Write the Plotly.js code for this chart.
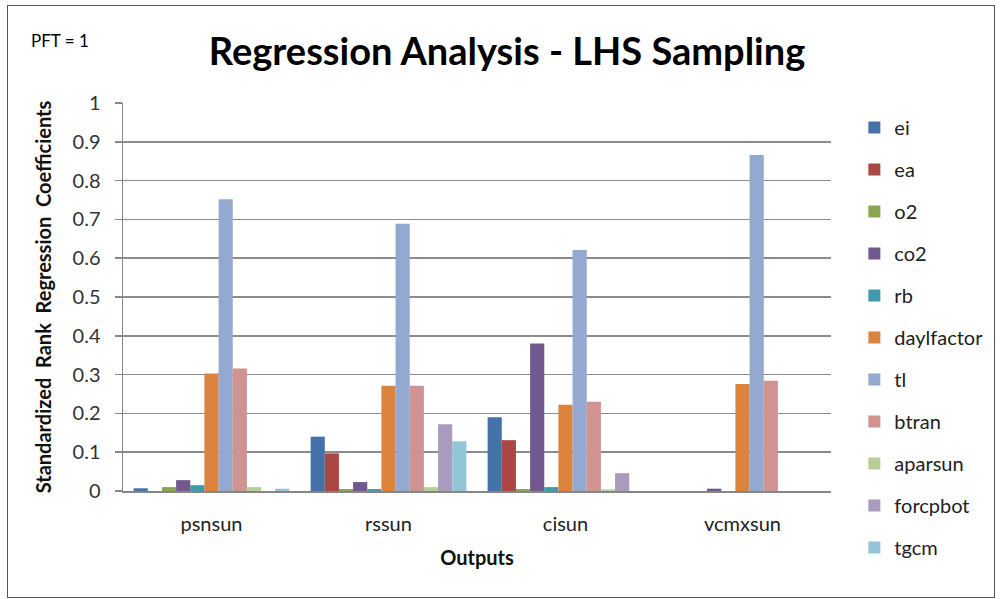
<!DOCTYPE html>
<html>
<head>
<meta charset="utf-8">
<script src="https://cdn.plot.ly/plotly-3.0.1.min.js"></script>
<style>
html,body{margin:0;padding:0;background:#fff;}
#wrap{position:relative;width:1000px;height:599px;}
#chart{width:1000px;height:599px;}
#frame{position:absolute;left:7px;top:5px;width:986px;height:591px;border:1px solid #555;pointer-events:none;}
</style>
</head>
<body>
<div id="wrap"><div id="chart"></div><div id="frame"></div></div>
<script>
var categories = ["psnsun", "rssun", "cisun", "vcmxsun"];
var seriesNames = ["ei", "ea", "o2", "co2", "rb", "daylfactor", "tl", "btran", "aparsun", "forcpbot", "tgcm"];
var ei         = [0.007, 0.140, 0.190, 0.000];
var ea         = [0.000, 0.097, 0.131, 0.000];
var o2         = [0.010, 0.005, 0.005, 0.000];
var co2        = [0.028, 0.023, 0.380, 0.006];
var rb         = [0.015, 0.005, 0.010, 0.000];
var daylfactor = [0.303, 0.271, 0.222, 0.276];
var tl         = [0.752, 0.689, 0.621, 0.866];
var btran      = [0.316, 0.271, 0.230, 0.284];
var aparsun    = [0.010, 0.010, 0.004, 0.000];
var forcpbot   = [0.000, 0.172, 0.046, 0.000];
var tgcm       = [0.006, 0.128, 0.000, 0.000];
var yTicks = [0, 0.1, 0.2, 0.3, 0.4, 0.5, 0.6, 0.7, 0.8, 0.9, 1];
var yTickText = ["0", "0.1", "0.2", "0.3", "0.4", "0.5", "0.6", "0.7", "0.8", "0.9", "1"];

var seriesValues = [ei, ea, o2, co2, rb, daylfactor, tl, btran, aparsun, forcpbot, tgcm];
var colors = ["#4572A7", "#AA4643", "#89A54E", "#71588F", "#4198AF", "#DB843D",
              "#93A9CF", "#D19392", "#B9CD96", "#A99BBD", "#92C5D6"];

var FONT = "Lato, 'Open Sans', sans-serif";

var traces = seriesNames.map(function (name, i) {
  return {
    type: "bar",
    name: name,
    x: categories,
    y: seriesValues[i],
    legendgroup: name,
    marker: {color: colors[i], line: {width: 0}},
    hoverinfo: "x+y+name"
  };
});

var layout = {
  width: 1000,
  height: 599,
  margin: {l: 123, r: 169, t: 103, b: 108, pad: 0},
  paper_bgcolor: "#ffffff",
  plot_bgcolor: "#ffffff",
  barmode: "group",
  bargap: 0.12,
  bargroupgap: 0,
  font: {family: FONT, color: "#222", size: 19},
  title: {
    text: "<b>Regression Analysis - LHS Sampling</b>",
    font: {family: FONT, size: 38, color: "#000"},
    xref: "container", x: 0.507, xanchor: "center",
    yref: "container", y: 1 - 52 / 599, yanchor: "middle"
  },
  xaxis: {
    type: "category",
    showgrid: false,
    showline: true, linecolor: "#868686", linewidth: 1.5,
    ticks: "",
    ticklabelstandoff: 14,
    tickfont: {family: FONT, size: 20, color: "#222"},
    title: {text: "<b>Outputs</b>", font: {family: FONT, size: 20, color: "#111"}, standoff: 17}
  },
  yaxis: {
    range: [0, 1],
    tickvals: yTicks,
    ticktext: yTickText,
    showgrid: true, gridcolor: "#8c8c8c", gridwidth: 1.5,
    showline: true, linecolor: "#868686", linewidth: 1.5,
    zeroline: false,
    ticks: "outside", ticklen: 7, tickcolor: "#868686", tickwidth: 1.5,
    ticklabelstandoff: 10,
    tickfont: {family: FONT, size: 20, color: "#333"},
    title: {text: "<b>Standardized  Rank  Regression  Coefficients</b>", font: {family: FONT, size: 20, color: "#111"}, standoff: 15}
  },
  legend: {
    x: 1.033, xanchor: "left",
    y: 1 - (128 - 103 - 20) / 388, yanchor: "top",
    font: {family: FONT, size: 20, color: "#222"},
    tracegroupgap: 13,
    maxheight: 599,
    bgcolor: "rgba(0,0,0,0)",
    itemclick: false, itemdoubleclick: false
  },
  annotations: [{
    text: "PFT = 1",
    xref: "paper", yref: "paper",
    x: (29 - 123) / 708, xanchor: "left",
    y: (491 - 41) / 388, yanchor: "middle",
    showarrow: false,
    font: {family: FONT, size: 17, color: "#000"}
  }],
  showlegend: true
};

Plotly.newPlot("chart", traces, layout, {displayModeBar: false, staticPlot: true});
</script>
</body>
</html>
